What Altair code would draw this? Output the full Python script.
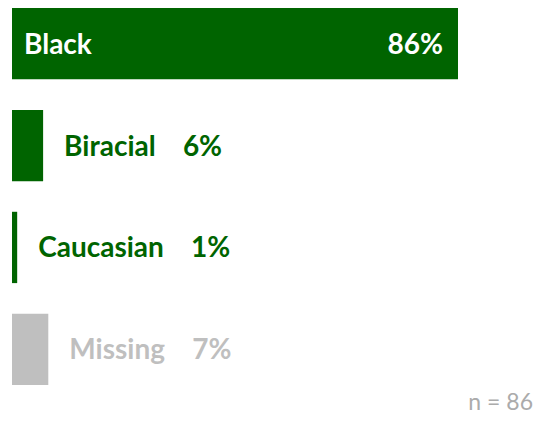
import altair as alt
import pandas as pd

categories = ["Black", "Biracial", "Caucasian", "Missing"]
values = [86, 6, 1, 7]
colors = ["#006400", "#006400", "#006400", "#BFBFBF"]
note = "n = 86"

NB = "\u00a0"
df = pd.DataFrame({
    "category": categories,
    "value": values,
    "color": colors,
})
df["zero"] = 0
df["pct"] = df["value"].astype(str) + "%"
df["label"] = df["category"] + NB * 4 + df["pct"]

FONT = "Lato"
FS = 28

xscale = alt.Scale(domain=[0, 86], range=[4, 450])
y = alt.Y("category:N", sort=categories, axis=None,
          scale=alt.Scale(range=[0, 377], paddingInner=0.3, paddingOuter=0))
x = alt.X("value:Q", axis=None, scale=xscale)
x0 = alt.X("zero:Q", axis=None, scale=xscale)

base = alt.Chart(df)

bars = base.mark_bar().encode(
    x=x, y=y,
    color=alt.Color("color:N", scale=None),
)

inside_name = base.transform_filter(alt.datum.category == "Black").mark_text(
    align="left", baseline="middle", font=FONT, fontWeight="bold", fontSize=FS,
    color="white", dx=12, dy=2,
).encode(x=x0, y=y, text="category:N")

inside_pct = base.transform_filter(alt.datum.category == "Black").mark_text(
    align="right", baseline="middle", font=FONT, fontWeight="bold", fontSize=FS,
    color="white", dx=-15, dy=2,
).encode(x=x, y=y, text="pct:N")

outside = base.transform_filter(alt.datum.category != "Black").mark_text(
    align="left", baseline="middle", font=FONT, fontWeight="bold", fontSize=FS,
    dx=21, dy=2,
).encode(x=x, y=y, text="label:N", color=alt.Color("color:N", scale=None))

n_text = base.transform_filter(alt.datum.category == "Black").mark_text(
    align="right", baseline="middle", font=FONT, fontSize=23, color="#ABABAB",
    text=note,
).encode(x=alt.value(525), y=alt.value(395))

chart = alt.layer(bars, inside_name, inside_pct, outside, n_text).properties(
    width=527, height=412,
    autosize=alt.AutoSizeParams(type="none"),
    padding=0,
).configure_view(stroke=None)

chart.save("out.html", embed_options={"renderer": "svg", "actions": False})
